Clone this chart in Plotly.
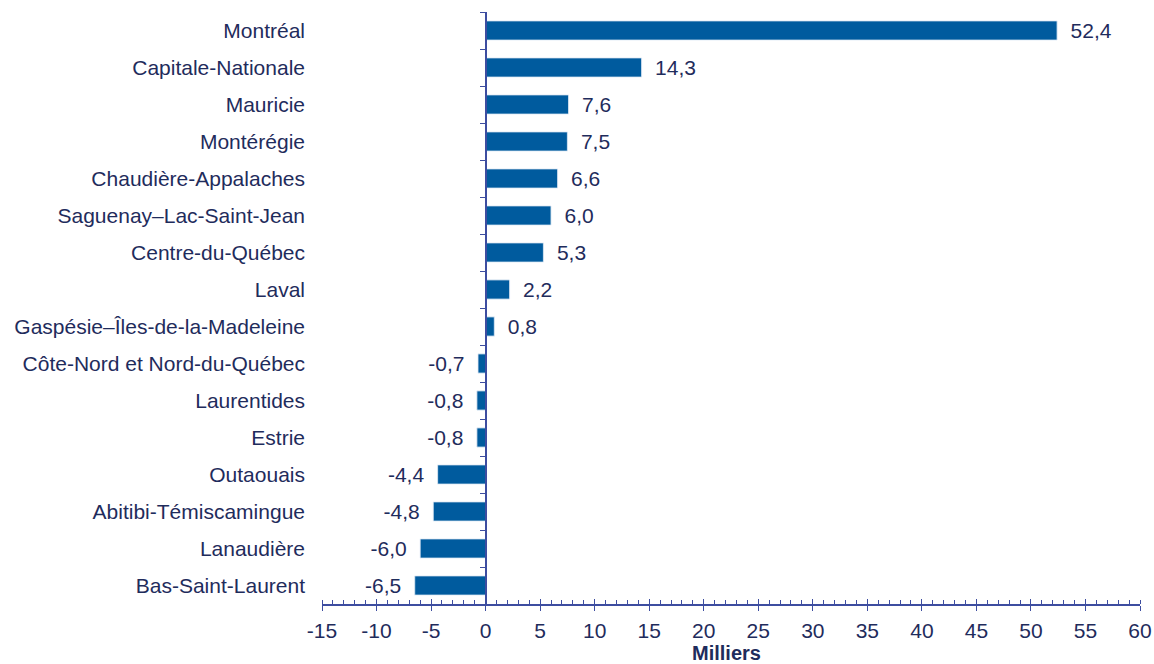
import plotly.graph_objects as go

regions = [
    "Montréal", "Capitale-Nationale", "Mauricie", "Montérégie",
    "Chaudière-Appalaches", "Saguenay–Lac-Saint-Jean", "Centre-du-Québec",
    "Laval", "Gaspésie–Îles-de-la-Madeleine", "Côte-Nord et Nord-du-Québec",
    "Laurentides", "Estrie", "Outaouais", "Abitibi-Témiscamingue",
    "Lanaudière", "Bas-Saint-Laurent",
]
values = [52.4, 14.3, 7.6, 7.5, 6.6, 6.0, 5.3, 2.2, 0.8, -0.7, -0.8, -0.8,
          -4.4, -4.8, -6.0, -6.5]
x_ticks = list(range(-15, 61, 5))
x_tick_text = [str(t) for t in x_ticks]  # plain hyphen minus, as in the source

GAP = "\u2002"
labels = []
for v in values:
    s = f"{v:.1f}".replace(".", ",")
    labels.append(GAP + s if v >= 0 else s + GAP)

BAR = "#005B9E"
TEXT = "#1F2C5C"
AXIS = "#3D4DA0"
FONT = "Liberation Sans, Arial, sans-serif"
FS = 21

fig = go.Figure()
fig.add_trace(go.Bar(
    x=values, y=regions, orientation="h", marker_color=BAR, width=0.52,
    text=labels, textposition="outside", cliponaxis=False,
    constraintext="none",
    textfont=dict(family=FONT, size=FS, color=TEXT),
    hoverinfo="skip",
))
# invisible helper trace carrying the axis at zero and the crossing ticks
fig.add_trace(go.Bar(
    x=values, y=regions, orientation="h", xaxis="x2", yaxis="y2",
    marker_color="rgba(0,0,0,0)", width=0.52, hoverinfo="skip",
    showlegend=False,
))

cat_range = [len(regions) - 0.5, -0.5]
fig.update_layout(
    width=1154, height=664,
    margin=dict(l=322, r=14, t=12, b=60),
    paper_bgcolor="white", plot_bgcolor="white",
    showlegend=False, bargap=0.48,
    font=dict(family=FONT, size=FS, color=TEXT),
    xaxis=dict(
        range=[-15, 60], tickvals=x_ticks, ticktext=x_tick_text,
        showgrid=False, zeroline=False, automargin=False,
        showline=True, linecolor=AXIS, linewidth=1.5,
        ticks="outside", ticklen=5, tickcolor=AXIS, tickwidth=1.2,
        minor=dict(ticks="inside", dtick=1, tick0=0, ticklen=4,
                   tickcolor=AXIS, tickwidth=1),
        tickfont=dict(family=FONT, size=FS, color=TEXT),
        ticklabelstandoff=2,
    ),
    xaxis2=dict(
        overlaying="x", matches="x", anchor="y", side="bottom",
        tickvals=x_ticks, showticklabels=False, showgrid=False,
        zeroline=False, showline=False, automargin=False,
        ticks="inside", ticklen=5, tickcolor=AXIS, tickwidth=1.2,
    ),
    yaxis=dict(
        categoryorder="array", categoryarray=regions, range=cat_range,
        showgrid=False, zeroline=False, showline=False, ticks="",
        automargin=False, ticklabelstandoff=16,
        tickfont=dict(family=FONT, size=FS, color=TEXT),
    ),
    yaxis2=dict(
        overlaying="y", anchor="free", position=15 / 75,
        categoryorder="array", categoryarray=regions, range=cat_range,
        showticklabels=False, showgrid=False, zeroline=False,
        automargin=False,
        showline=True, linecolor=AXIS, linewidth=1.5,
        ticks="outside", tickson="boundaries", ticklen=5,
        tickcolor=AXIS, tickwidth=1.2,
    ),
    annotations=[dict(
        text="<b>Milliers</b>", xref="paper", yref="paper",
        x=0.495, y=0, xanchor="center", yanchor="top", yshift=-36,
        showarrow=False, font=dict(family=FONT, size=20, color=TEXT),
    )],
)

fig.write_html("out.html", config={"displayModeBar": False},
               post_script="document.body.style.margin='0';")
